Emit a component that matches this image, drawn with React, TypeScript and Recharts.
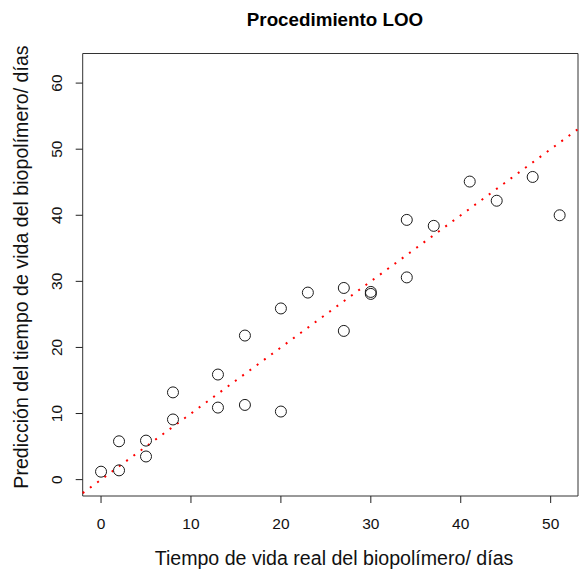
import React from 'react';
import { ScatterChart, Scatter, XAxis, YAxis, ReferenceLine, ReferenceArea, Label } from 'recharts';

const realDays = [0, 2, 2, 5, 5, 8, 8, 13, 13, 16, 16, 20, 20, 23, 27, 27, 30, 30, 34, 34, 37, 41, 44, 48, 51];
const predictedDays = [1.2, 1.4, 5.8, 5.9, 3.5, 13.2, 9.1, 15.9, 10.9, 21.8, 11.3, 25.9, 10.3, 28.3, 29.0, 22.5, 28.4, 28.1, 39.3, 30.6, 38.4, 45.1, 42.2, 45.8, 40.0];
const xTicks = [0, 10, 20, 30, 40, 50];
const yTicks = [0, 10, 20, 30, 40, 50, 60];
const xDomain: [number, number] = [-2.04, 53.04];
const yDomain: [number, number] = [-2.48, 64.48];
const title = 'Procedimiento LOO';
const xTitle = 'Tiempo de vida real del biopolímero/ días';
const yTitle = 'Predicción del tiempo de vida del biopolímero/ días';

const data = realDays.map((x, i) => ({ x, y: predictedDays[i] }));

const FONT = '"Liberation Sans", Arial, sans-serif';

const XTick = (props: any) => {
  const { x, payload } = props;
  return (
    <text x={x} y={523.5} textAnchor="middle" dominantBaseline="central" fontFamily={FONT} fontSize={15.5} fill="#111">
      {payload.value}
    </text>
  );
};

const YTick = (props: any) => {
  const { y, payload } = props;
  return (
    <text
      x={57}
      y={y}
      textAnchor="middle"
      dominantBaseline="central"
      transform={`rotate(-90, 57, ${y})`}
      fontFamily={FONT}
      fontSize={15.5}
      fill="#111"
    >
      {payload.value}
    </text>
  );
};

const Circle = (props: any) => (
  <circle cx={props.cx} cy={props.cy} r={5.5} fill="none" stroke="#1a1a1a" strokeWidth={1} />
);

export default function App() {
  return (
    <div style={{ position: 'absolute', left: 0, top: 0, background: '#fff' }}>
      <ScatterChart width={579} height={572} margin={{ top: 53.5, right: 1, bottom: 0, left: 0 }}>
        <XAxis
          type="number"
          dataKey="x"
          domain={xDomain}
          ticks={xTicks}
          allowDataOverflow
          height={76}
          axisLine={false}
          tickSize={7}
          tickLine={{ stroke: '#222' }}
          tick={<XTick />}
        >
          <Label
            content={() => (
              <text x={334} y={558} textAnchor="middle" dominantBaseline="central" fontFamily={FONT} fontSize={19.6} fill="#111">
                {xTitle}
              </text>
            )}
          />
        </XAxis>
        <YAxis
          type="number"
          dataKey="y"
          domain={yDomain}
          ticks={yTicks}
          allowDataOverflow
          width={82.7}
          axisLine={false}
          tickSize={7}
          tickLine={{ stroke: '#222' }}
          tick={<YTick />}
        >
          <Label
            content={() => (
              <text
                x={20.6}
                y={267}
                textAnchor="middle"
                dominantBaseline="central"
                transform="rotate(-90, 20.6, 267)"
                fontFamily={FONT}
                fontSize={19.6}
                fill="#111"
              >
                {yTitle}
              </text>
            )}
          />
        </YAxis>
        <ReferenceArea x1={xDomain[0]} x2={xDomain[1]} y1={yDomain[0]} y2={yDomain[1]} fill="none" stroke="#333" strokeWidth={1} fillOpacity={0}>
          <Label
            content={() => (
              <text x={335} y={19.2} textAnchor="middle" dominantBaseline="central" fontFamily={FONT} fontSize={18.8} fontWeight="bold" fill="#000">
                {title}
              </text>
            )}
          />
        </ReferenceArea>
        <Scatter data={data} shape={<Circle />} isAnimationActive={false} />
        <ReferenceLine
          segment={[{ x: xDomain[0], y: xDomain[0] }, { x: xDomain[1], y: xDomain[1] }]}
          stroke="#ff0000"
          strokeWidth={2}
          strokeDasharray="2 7"
        />
      </ScatterChart>
    </div>
  );
}
